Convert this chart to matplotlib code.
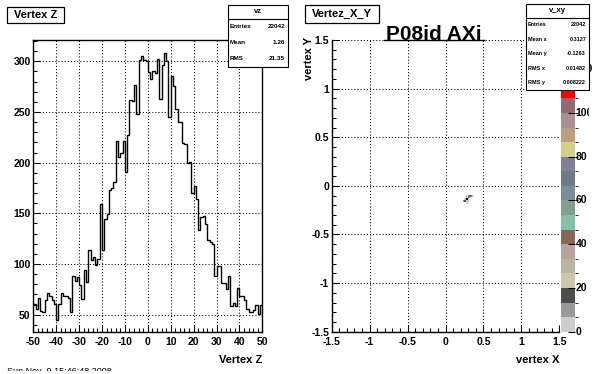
import numpy as np
import matplotlib
matplotlib.use('Agg')
from matplotlib import pyplot as plt
from matplotlib.colors import ListedColormap, BoundaryNorm
from matplotlib.patches import Rectangle
from matplotlib.lines import Line2D
from matplotlib.ticker import MultipleLocator, FuncFormatter
from matplotlib.transforms import blended_transform_factory

plt.rcParams['font.family'] = ['Liberation Sans', 'DejaVu Sans']
plt.rcParams['font.weight'] = 'bold'

# ---- data: Vertex Z histogram, 100 bins in [-50, 50]
vz_edges = np.linspace(-50, 50, 101)
vz_counts = [61, 56, 66, 54, 53, 64, 71, 68, 64, 61,
             45, 61, 71, 68, 68, 66, 53, 88, 83, 87,
             79, 65, 94, 82, 114, 104, 107, 99, 105, 159,
             114, 144, 149, 173, 175, 181, 221, 206, 210, 221,
             191, 227, 262, 261, 277, 248, 301, 305, 301, 300,
             289, 283, 290, 288, 302, 263, 296, 308, 300, 245,
             285, 276, 253, 240, 240, 219, 218, 200, 201, 170,
             177, 164, 134, 146, 147, 139, 124, 122, 120, 88,
             98, 98, 81, 81, 75, 88, 59, 62, 59, 76,
             68, 68, 64, 56, 53, 53, 55, 60, 51, 60]
vz_stats = [('Entries', '22042'), ('Mean', '1.26'), ('RMS', '21.35')]

# ---- data: vertex X/Y 2D histogram (only the filled cells)
xy_xedges = [0.23, 0.25, 0.27, 0.29, 0.31, 0.33, 0.35, 0.37]
xy_yedges = [-0.19, -0.17, -0.15, -0.13, -0.11, -0.09, -0.07]
xy_counts = [[0, 0, 4, 0, 0, 0, 0],
             [9, 16, 6, 2, 0, 0, 0],
             [0, 2, 130, 6, 0, 0, 0],
             [0, 0, 5, 14, 4, 0, 0],
             [0, 0, 3, 8, 16, 9, 2],
             [0, 0, 0, 0, 0, 0, 0]]
xy_stats = [('Entries', '22042'), ('Mean x', '0.3127'), ('Mean y', '-0.1263'),
            ('RMS x', '0.01482'), ('RMS y', '0.008222')]
z_max = 133.33
z_ticks = [0, 20, 40, 60, 80, 100, 120]

# old ROOT default palette, 20 contours
palette = ['#cccccc', '#999999', '#4c4c4c', (0.8, 0.78, 0.67), (0.73, 0.71, 0.64),
           (0.72, 0.64, 0.61), (0.53, 0.4, 0.34), (0.52, 0.76, 0.64), (0.51, 0.62, 0.55),
           (0.48, 0.56, 0.6), (0.43, 0.48, 0.52), (0.5, 0.5, 0.61), (0.83, 0.81, 0.53),
           (0.74, 0.62, 0.51), (0.67, 0.56, 0.58), (0.58, 0.41, 0.44), '#ff0000',
           '#ff00ff', '#0000ff', '#000000']

W, H = 596, 374
fig = plt.figure(figsize=(W / 100, H / 100), dpi=100)


def fx(px):
    return px / W


def fy(py):
    return 1 - py / H


def rect(x0, y0, x1, y1):
    return [fx(x0), fy(y1), fx(x1) - fx(x0), fy(y0) - fy(y1)]


def root_fmt(v, pos=None):
    return ('%g' % v).replace('\u2212', '-')


def style_axes(ax, xmaj, xmin, ymaj, ymin):
    ax.xaxis.set_major_locator(MultipleLocator(xmaj))
    ax.xaxis.set_minor_locator(MultipleLocator(xmin))
    ax.yaxis.set_major_locator(MultipleLocator(ymaj))
    ax.yaxis.set_minor_locator(MultipleLocator(ymin))
    ax.xaxis.set_major_formatter(FuncFormatter(root_fmt))
    ax.yaxis.set_major_formatter(FuncFormatter(root_fmt))
    ax.tick_params(which='both', direction='in', width=0.75, labelsize=7.5, color='k')
    ax.tick_params(which='major', length=5)
    ax.tick_params(which='minor', length=2.8)
    ax.tick_params(axis='x', pad=3.6)
    ax.tick_params(axis='y', pad=1.9)
    ax.grid(True, which='major', color='k', ls=(0, (1, 2)), lw=0.75)
    ax.set_axisbelow(False)


def box(x0, y0, x1, y1, lw=0.9, ec='black', z=5):
    fig.add_artist(Rectangle((fx(x0), fy(y1)), fx(x1) - fx(x0), fy(y0) - fy(y1),
                             transform=fig.transFigure, fc='white', ec=ec,
                             lw=lw, zorder=z))


def stats_box(x0, y0, x1, y1, header, rows, fs):
    box(x0, y0, x1, y1, lw=0.8)
    ydiv = y0 + 13.5
    fig.add_artist(Line2D([fx(x0), fx(x1)], [fy(ydiv), fy(ydiv)], transform=fig.transFigure,
                          color='k', lw=0.8, zorder=6))
    fig.text(fx((x0 + x1) / 2), fy((y0 + ydiv) / 2), header, ha='center', va='center',
             fontsize=5.5, zorder=7)
    step = (y1 - ydiv) / len(rows)
    for i, (lab, val) in enumerate(rows):
        yc = ydiv + step * (i + 0.5)
        fig.text(fx(x0 + 2), fy(yc), lab, ha='left', va='center', fontsize=fs, zorder=7)
        fig.text(fx(x1 - 3), fy(yc), val, ha='right', va='center', fontsize=fs, zorder=7)


# ---------------- left pad: Vertex Z
ax1 = fig.add_axes(rect(33.3, 40, 262.3, 331.7))
ax1.stairs(vz_counts, vz_edges, baseline=None, color='k', lw=1.0)
ax1.set_xlim(-50, 50)
ax1.set_ylim(33.2, 321.0)
style_axes(ax1, 10, 2, 50, 10)
for s in ax1.spines.values():
    s.set_linewidth(1.0)
fig.text(fx(262), fy(360), 'Vertex Z', ha='right', va='center', fontsize=8)

box(7, 7, 64, 23)
fig.text(fx(35.5), fy(15), 'Vertex Z', ha='center', va='center', fontsize=8, zorder=7)
stats_box(228, 5, 288, 66.7, 'vz', vz_stats, 4.6)

# ---------------- right pad: vertex X vs Y
ax2 = fig.add_axes(rect(331.7, 40, 559.3, 331.7))
counts = np.ma.masked_equal(np.array(xy_counts, dtype=float), 0)
levels = np.linspace(0, z_max, len(palette) + 1)
cmap = ListedColormap(palette)
norm = BoundaryNorm(levels, cmap.N)
mesh = ax2.pcolormesh(xy_xedges, xy_yedges, counts, cmap=cmap, norm=norm)
ax2.set_xlim(-1.5, 1.5)
ax2.set_ylim(-1.5, 1.5)
style_axes(ax2, 0.5, 0.1, 0.5, 0.1)
ax2.spines['top'].set_visible(False)
ax2.spines['right'].set_visible(False)
for s in ('left', 'bottom'):
    ax2.spines[s].set_linewidth(1.0)
fig.text(fx(559), fy(360), 'vertex X', ha='right', va='center', fontsize=8)
fig.text(fx(309.5), fy(37), 'vertex Y', ha='center', va='top', rotation=90, fontsize=8)

# palette axis
cax = fig.add_axes(rect(560.5, 40, 574.5, 331.7))
cb = fig.colorbar(mesh, cax=cax)
cb.outline.set_visible(False)
cax.set_yticks(z_ticks)
cax.set_yticklabels([])
cax.tick_params(axis='y', direction='in', length=5, width=0.75, right=True, left=False)
tr = blended_transform_factory(fig.transFigure, cax.transData)
for v in z_ticks:
    cax.text(fx(575.5), v, str(v), transform=tr, ha='left', va='center', fontsize=7.5,
             clip_on=False)
# the pad edge cuts the palette labels on the right
box(588.5, 91, 600, 345, lw=0, ec='none', z=4)

box(305, 5, 379, 23)
fig.text(fx(342), fy(14), 'Vertez_X_Y', ha='center', va='center', fontsize=8, zorder=7)
fig.text(fx(434.3), fy(40), 'P08id AXi', ha='center', va='baseline', fontsize=15, zorder=7)
fig.add_artist(Line2D([fx(384), fx(484)], [fy(40), fy(40)], transform=fig.transFigure,
                      color='k', lw=1.0, zorder=6))
stats_box(526, 4, 589, 90, 'v_xy', xy_stats, 4.0)

# date line, mostly cut off by the bottom edge
fig.text(fx(7), fy(367.5), 'Sun Nov  9 15:46:48 2008', ha='left', va='top',
         fontsize=6.5, fontweight='normal', zorder=3)
box(0, 371, 250, 380, lw=0, ec='none', z=8)

fig.savefig('out.png', dpi=100)
